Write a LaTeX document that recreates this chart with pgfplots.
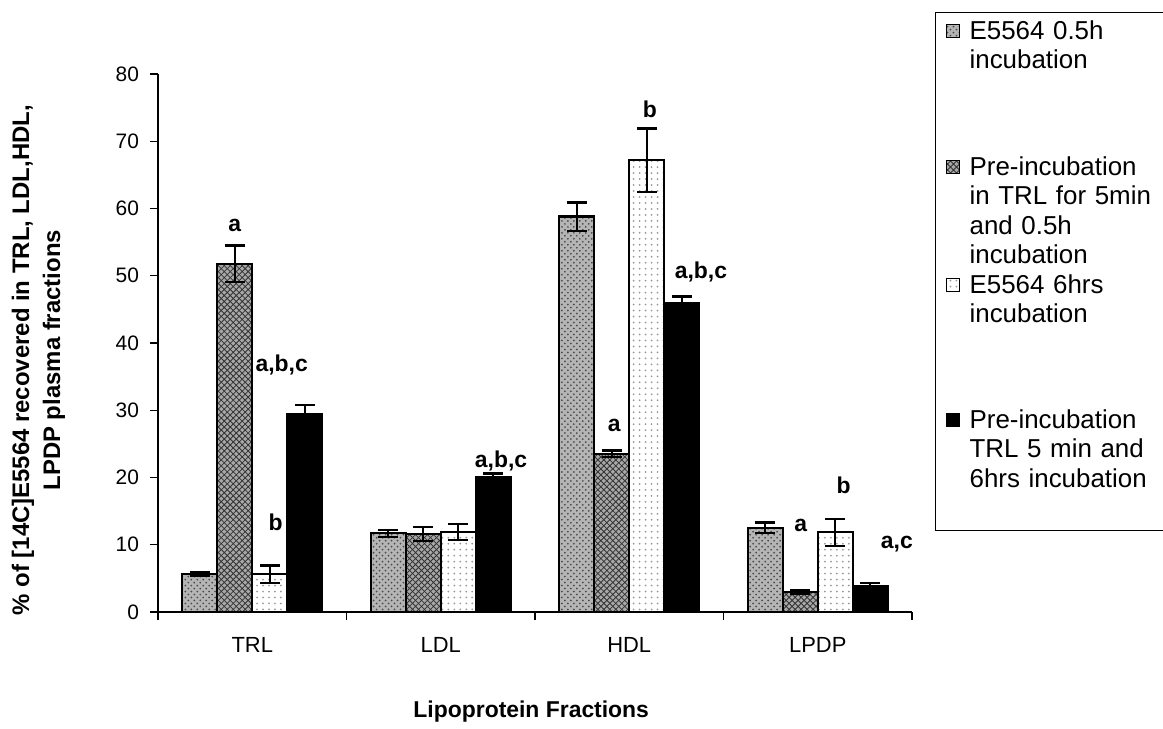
\documentclass[border=0pt]{standalone}
\usepackage{fontspec}
\setmainfont{Liberation Sans}
\usepackage{pgfplots}
\pgfplotsset{compat=1.18}
\usepackage{pgfplotstable}
\usetikzlibrary{patterns}

% E5564 0.5h incubation
\pgfplotstableread{
x y e
0 5.6 0.3
1 11.7 0.5
2 58.8 2.1
3 12.5 0.8
}\sA
% Pre-incubation in TRL 5 min and 0.5h incubation
\pgfplotstableread{
x y e
0 51.8 2.7
1 11.6 1.0
2 23.5 0.5
3 3.0 0.3
}\sB
% E5564 6hrs incubation
\pgfplotstableread{
x y e
0 5.6 1.3
1 11.85 1.2
2 67.2 4.7
3 11.85 2.0
}\sC
% Pre-incubation TRL 5 min and 6hrs incubation
\pgfplotstableread{
x y e
0 29.5 1.3
1 20.0 0.6
2 45.9 1.0
3 3.9 0.4
}\sD

\begin{document}
\begin{tikzpicture}
\useasboundingbox (-79bp,-58.5bp) rectangle (502.5bp,306bp);
\begin{axis}[
  at={(0,0)}, anchor=south west,
  scale only axis, width=377bp, height=269bp,
  xmin=-0.5, xmax=3.5, ymin=0, ymax=80,
  enlargelimits=false,
  axis x line=bottom, axis y line=left,
  axis line style={-, line width=0.7bp, black},
  ybar=0pt, bar width=0.1857,
  ytick={0,10,...,80},
  xtick={-0.5,0.5,1.5,2.5,3.5}, xticklabels={},
  extra x ticks={0,1,2,3}, extra x tick labels={TRL,LDL,HDL,LPDP},
  extra x tick style={major tick length=0pt,
     tick label style={yshift=-9bp, font=\fontsize{11}{13}\selectfont}},
  tick align=outside, major tick length=4bp,
  tick style={line width=0.7bp, black},
  /pgf/number format/assume math mode=true,
  tick label style={font=\fontsize{10.5}{12}\selectfont},
  yticklabel style={xshift=-2bp},
  ylabel={\% of [14C]E5564 recovered in TRL, LDL,HDL,\\LPDP plasma  fractions},
  ylabel style={align=center, font=\bfseries\fontsize{12}{15.5}\selectfont,
    at={(axis description cs:-0.1585,0.468)}, anchor=center},
  xlabel={Lipoprotein Fractions},
  xlabel style={font=\bfseries\fontsize{11.5}{13}\selectfont,
    at={(axis description cs:0.495,-0.186)}, anchor=center},
  legend image code/.code={\draw[#1, line width=0.5bp] (0bp,0.8bp) rectangle (6.5bp,7.3bp);},
  legend style={at={(axis description cs:1.0305,1.1152)}, anchor=north west,
    draw=black, line width=0.6bp, inner xsep=5bp, inner ysep=3bp, row sep=0pt,
    font=\fontsize{13}{15}\selectfont,
    cells={anchor=base west},
    nodes={inner ysep=0pt, inner xsep=5bp, text width=100bp,
           text height=10.3bp, text depth=4.45bp}},
  error bars/y dir=both, error bars/y explicit,
  error bars/error bar style={line width=1.1bp, black},
  error bars/error mark options={rotate=90, mark size=5bp, line width=1.1bp, black},
]
\addplot[draw=black, line width=1.1bp, fill=gray!58,
  postaction={pattern=crosshatch dots, pattern color=black!70}]
  table[x=x, y=y, y error=e] {\sA};
\addlegendentry{E5564 0.5h}
\addlegendimage{empty legend}\addlegendentry{incubation}
\addlegendimage{empty legend}\addlegendentry[text height=0bp, text depth=38.5bp]{}

\addplot[draw=black, line width=1.1bp, fill=gray!68,
  postaction={pattern=crosshatch, pattern color=black!80}]
  table[x=x, y=y, y error=e] {\sB};
\addlegendentry{Pre-incubation}
\addlegendimage{empty legend}\addlegendentry{in TRL for 5min}
\addlegendimage{empty legend}\addlegendentry{and 0.5h}
\addlegendimage{empty legend}\addlegendentry{incubation}

\addplot[draw=black, line width=1.1bp, fill=white,
  postaction={pattern=dots, pattern color=gray!80}]
  table[x=x, y=y, y error=e] {\sC};
\addlegendentry{E5564 6hrs}
\addlegendimage{empty legend}\addlegendentry{incubation}
\addlegendimage{empty legend}\addlegendentry[text height=0bp, text depth=38bp]{}

\addplot[draw=black, line width=1.1bp, fill=black]
  table[x=x, y=y, y error=e] {\sD};
\addlegendentry{Pre-incubation}
\addlegendimage{empty legend}\addlegendentry{TRL 5 min and}
\addlegendimage{empty legend}\addlegendentry[text depth=18.5bp]{6hrs incubation}

\begin{scope}[every node/.style={font=\bfseries\fontsize{11.5}{13}\selectfont}]
\node at (axis cs:-0.093,57.5) {a};
\node at (axis cs:0.156,36.8) {a,b,c};
\node at (axis cs:0.124,13.3) {b};
\node at (axis cs:1.32,22.5) {a,b,c};
\node at (axis cs:1.92,27.8) {a};
\node at (axis cs:2.11,74.8) {b};
\node at (axis cs:2.38,50.6) {a,b,c};
\node at (axis cs:2.91,12.9) {a};
\node at (axis cs:3.137,18.8) {b};
\node at (axis cs:3.42,10.1) {a,c};
\end{scope}
\end{axis}
\end{tikzpicture}
\end{document}
